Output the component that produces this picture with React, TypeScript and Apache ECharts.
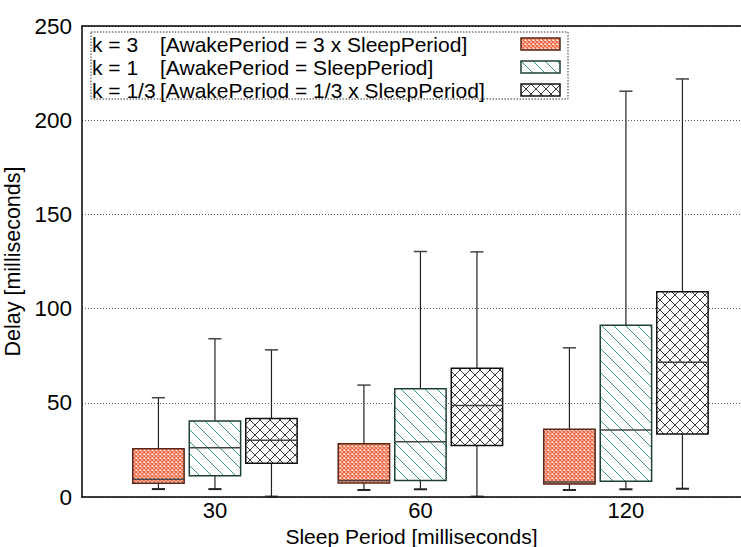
import React, { useEffect, useRef } from "react";
import * as echarts from "echarts";

const categories = ["30", "60", "120"];
const positions = [1, 2, 3];
const kLabels = ["k = 3", "k = 1", "k = 1/3"];
const kDescs = [
  "[AwakePeriod = 3 x SleepPeriod]",
  "[AwakePeriod = SleepPeriod]",
  "[AwakePeriod = 1/3 x SleepPeriod]",
];
// [min, q1, median, q3, max] per sleep period
const k3Stats = [
  [4.2, 7.3, 9.4, 25.6, 52.7],
  [3.7, 7.4, 8.7, 28.3, 59.4],
  [3.7, 6.9, 8.0, 35.9, 79.2],
];
const k1Stats = [
  [4.2, 11.3, 26.2, 40.3, 84.0],
  [4.1, 8.8, 29.3, 57.5, 130.3],
  [4.1, 8.3, 35.5, 91.2, 215.4],
];
const k13Stats = [
  [0.2, 17.9, 30.1, 41.7, 78.1],
  [0.2, 27.4, 48.6, 68.3, 130.1],
  [4.4, 33.4, 71.5, 108.9, 221.9],
];
const yTicks = [0, 50, 100, 150, 200, 250];

const FONT = "Liberation Sans, Arial, Helvetica, sans-serif";

function makePattern(size: number, bg: string, color: string, width: number, dirs: string[]) {
  const cv = document.createElement("canvas");
  cv.width = size;
  cv.height = size;
  const ctx = cv.getContext("2d")!;
  ctx.fillStyle = bg;
  ctx.fillRect(0, 0, size, size);
  ctx.strokeStyle = color;
  ctx.lineWidth = width;
  ctx.beginPath();
  for (const k of [-1, 0, 1]) {
    if (dirs.includes("\\")) {
      ctx.moveTo(k * size, 0);
      ctx.lineTo(k * size + size, size);
    }
    if (dirs.includes("/")) {
      ctx.moveTo(k * size, size);
      ctx.lineTo(k * size + size, 0);
    }
  }
  ctx.stroke();
  return { image: cv, repeat: "repeat", imageWidth: size, imageHeight: size } as any;
}

export default function App() {
  const ref = useRef<HTMLDivElement>(null);
  useEffect(() => {
    if (!ref.current) return;
    const chart = echarts.init(ref.current, undefined, { renderer: "svg" });

    const patterns = [
      makePattern(4, "#ffffff", "#ee6b46", 1.5, ["\\", "/"]),
      makePattern(12, "#ffffff", "#2f9c86", 1, ["\\"]),
      makePattern(10, "#ffffff", "#3a3a3a", 1, ["\\", "/"]),
    ];
    const borders = ["#5a2616", "#1d3f3a", "#111111"];
    const statsList = [k3Stats, k1Stats, k13Stats];
    const names = kLabels.map((k, i) => k + " " + kDescs[i]);
    const OFFSET = 0.275;
    const HALF = 0.125;
    const CAP = 0.032;

    const series = statsList.map((stats, si) => ({
      type: "custom",
      name: names[si],
      itemStyle: { color: patterns[si], borderColor: borders[si], borderWidth: 1.5 },
      encode: { x: 0, y: [1, 2, 3, 4, 5] },
      data: positions.map((p, i) => [p, ...stats[i]]),
      renderItem: (params: any, api: any) => {
        const x = api.value(0) + (si - 1) * OFFSET;
        const cx = api.coord([x, 0])[0];
        const left = api.coord([x - HALF, 0])[0];
        const right = api.coord([x + HALF, 0])[0];
        const capL = api.coord([x - CAP, 0])[0];
        const capR = api.coord([x + CAP, 0])[0];
        const yMin = api.coord([x, api.value(1)])[1];
        const yQ1 = api.coord([x, api.value(2)])[1];
        const yMed = api.coord([x, api.value(3)])[1];
        const yQ3 = api.coord([x, api.value(4)])[1];
        const yMax = api.coord([x, api.value(5)])[1];
        const wStyle = { stroke: "#222", lineWidth: 1.2 };
        return {
          type: "group",
          children: [
            { type: "line", shape: { x1: cx, y1: yQ3, x2: cx, y2: yMax }, style: wStyle },
            { type: "line", shape: { x1: cx, y1: yQ1, x2: cx, y2: yMin }, style: wStyle },
            { type: "line", shape: { x1: capL, y1: yMax, x2: capR, y2: yMax }, style: { stroke: "#444", lineWidth: 1.5 } },
            { type: "line", shape: { x1: capL, y1: yMin, x2: capR, y2: yMin }, style: { stroke: "#222", lineWidth: 2 } },
            {
              type: "rect",
              shape: { x: left, y: yQ3, width: right - left, height: yQ1 - yQ3 },
              style: { fill: patterns[si], stroke: borders[si], lineWidth: 1.5 },
            },
            { type: "line", shape: { x1: left, y1: yMed, x2: right, y2: yMed }, style: { stroke: "#444", lineWidth: 1.5 } },
          ],
        };
      },
    }));

    chart.setOption({
      animation: false,
      backgroundColor: "#ffffff",
      textStyle: { fontFamily: FONT },
      grid: { left: 82, right: 0, top: 26, bottom: 50, outerBoundsMode: "none", containLabel: false },
      legend: {
        orient: "vertical",
        left: 92,
        top: 33,
        padding: 0,
        itemGap: 1,
        itemWidth: 39,
        itemHeight: 12,
        align: "right",
        icon: "rect",
        selectedMode: false,
        data: names.map((n, i) => ({ name: n, itemStyle: { borderColor: borders[i], borderWidth: 1.5 } })),
        formatter: (name: string) => {
          const i = names.indexOf(name);
          return `{a|${kLabels[i]}}{b|${kDescs[i]}}`;
        },
        textStyle: {
          fontFamily: FONT,
          fontSize: 21,
          color: "#000",
          lineHeight: 22,
          rich: {
            a: { width: 68, align: "left", fontSize: 21, fontFamily: FONT, color: "#000", lineHeight: 22 },
            b: { width: 356, align: "left", fontSize: 21, fontFamily: FONT, color: "#000", lineHeight: 22 },
          },
        },
      },
      graphic: [
        {
          type: "rect",
          shape: { x: 91, y: 32, width: 477, height: 67 },
          style: { fill: "none", stroke: "#333", lineWidth: 1, lineDash: [1.5, 1.5] },
          z: 100,
        },
      ],
      xAxis: [
        {
          type: "value",
          min: 0.353,
          max: 3.56,
          position: "bottom",
          axisLine: { show: true, lineStyle: { color: "#000", width: 1.5 } },
          axisTick: { show: false },
          splitLine: { show: false },
          axisLabel: {
            customValues: positions,
            formatter: (v: number) => categories[Math.round(v) - 1] ?? "",
            fontSize: 22,
            color: "#000",
            fontFamily: FONT,
            margin: 2,
          },
          name: "Sleep Period [milliseconds]",
          nameLocation: "middle",
          nameGap: 28,
          nameTextStyle: { fontSize: 21, lineHeight: 20, color: "#000", fontFamily: FONT },
        },
        {
          type: "value",
          min: 0.353,
          max: 3.56,
          position: "top",
          axisLine: { show: true, lineStyle: { color: "#000", width: 1.5 } },
          axisTick: { show: false },
          axisLabel: { show: false },
          splitLine: { show: false },
        },
      ],
      yAxis: {
        type: "value",
        min: yTicks[0],
        max: yTicks[yTicks.length - 1],
        interval: 50,
        axisLine: { show: true, lineStyle: { color: "#000", width: 1.5 } },
        axisTick: { show: false },
        splitLine: { show: true, lineStyle: { type: [1, 2], color: "#555", width: 1 } },
        axisLabel: { fontSize: 22.5, color: "#000", fontFamily: FONT, margin: 10 },
        name: "Delay [milliseconds]",
        nameLocation: "middle",
        nameGap: 48,
        nameTextStyle: { fontSize: 21.5, color: "#000", fontFamily: FONT },
      },
      series,
    });
    return () => chart.dispose();
  }, []);
  return (
    <div
      ref={ref}
      style={{ position: "fixed", left: 0, top: 0, width: 741, height: 547, background: "#fff" }}
    />
  );
}
